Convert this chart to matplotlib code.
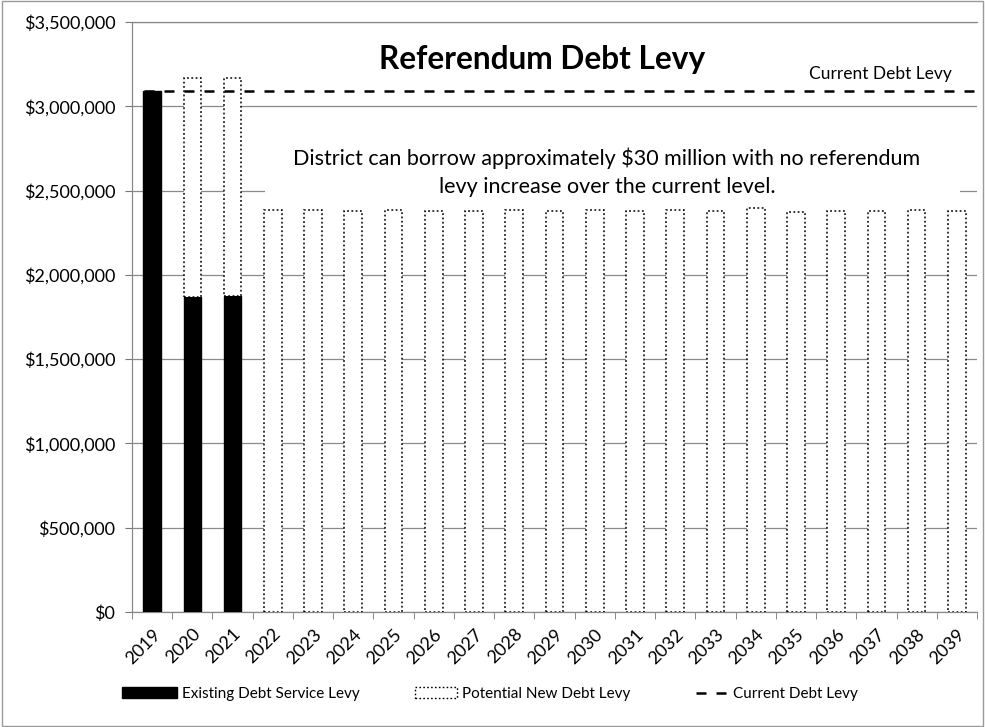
import matplotlib
matplotlib.use("Agg")
import matplotlib.pyplot as plt
from matplotlib.patches import Patch, Rectangle
from matplotlib.lines import Line2D
from matplotlib.ticker import FuncFormatter, MultipleLocator
import numpy as np

plt.rcParams['font.family'] = ['Lato', 'DejaVu Sans']

years = [str(y) for y in range(2019, 2040)]
existing_levy = [3090000, 1870000, 1875000] + [0] * 18
potential_levy = [0, 1297000, 1290000,
                  2383000, 2385000, 2380000, 2385000, 2380000, 2380000,
                  2385000, 2380000, 2385000, 2380000, 2385000, 2380000,
                  2395000, 2375000, 2380000, 2380000, 2385000, 2380000]
current_levy = 3090000

W, H = 985, 727
fig = plt.figure(figsize=(W / 100, H / 100), dpi=100)
ax = fig.add_axes([132 / W, 1 - 612 / H, (977 - 132) / W, (612 - 22) / H])

dotted = (0, (1.2, 1.6))
dashed = (0, (4, 4))

x = np.arange(len(years))
width = 0.44
ax.bar(x, existing_levy, width, color='black', edgecolor='black', zorder=3)
pot = np.array(potential_levy)
has_pot = pot > 0
ax.bar(x[has_pot], pot[has_pot], width, bottom=np.array(existing_levy)[has_pot],
       facecolor='white', edgecolor='black', linestyle=dotted,
       linewidth=1.1, zorder=3)

ax.hlines(current_levy, -0.2, 20.5, colors='black', linestyles=dashed,
          linewidth=1.8, zorder=4)

ax.set_xlim(-0.5, 20.5)
ax.set_ylim(0, 3500000)
ax.yaxis.set_major_locator(MultipleLocator(500000))
ax.yaxis.set_major_formatter(FuncFormatter(lambda v, p: f"${v:,.0f}"))
ax.grid(axis='y', color='#8a8a8a', linewidth=0.9, zorder=0)
ax.set_axisbelow(True)

ax.set_xticks(x)
ax.set_xticklabels(years, rotation=45, ha='right', rotation_mode='anchor',
                   fontsize=13)
ax.set_xticks(np.arange(-0.5, 21, 1), minor=True)
ax.tick_params(axis='x', which='major', length=0, pad=10)
ax.tick_params(axis='x', which='minor', length=5, color='#777777')
ax.tick_params(axis='y', length=5, color='#777777', labelsize=13, pad=7)

for s in ['left', 'bottom', 'top']:
    ax.spines[s].set_color('#888888')
    ax.spines[s].set_linewidth(0.9)
ax.spines['right'].set_visible(False)

ax.text(0.485, 0.937, 'Referendum Debt Levy', transform=ax.transAxes,
        ha='center', va='center', fontsize=22.8, fontweight='bold')
ax.text(0.886, 0.912, 'Current Debt Levy', transform=ax.transAxes,
        ha='center', va='center', fontsize=12.5)

# white panel behind the note, above the gridlines but under the bars
ax.add_patch(Rectangle((0.157, 0.702), 0.823, 0.106, transform=ax.transAxes,
                       facecolor='white', edgecolor='none', zorder=1.5))
ax.text(0.562, 0.746,
        'District can borrow approximately $30 million with no referendum\n'
        'levy increase over the current level.',
        transform=ax.transAxes, ha='center', va='center', fontsize=15.5,
        linespacing=1.5, zorder=5)

# legend entries placed individually along the bottom
legend_items = [
    (Patch(facecolor='black', edgecolor='black'), 'Existing Debt Service Levy', 122, 3.6),
    (Patch(facecolor='white', edgecolor='black', linestyle=dotted), 'Potential New Debt Levy', 415, 2.75),
    (Line2D([0], [0], color='black', linestyle=dashed, linewidth=1.8), 'Current Debt Levy', 696, 2.1),
]
for handle, label, left_px, hl in legend_items:
    fig.legend(handles=[handle], labels=[label], loc='center left',
               bbox_to_anchor=(left_px / W, 1 - 694 / H), frameon=False,
               fontsize=11, handlelength=hl, handleheight=0.75,
               handletextpad=0.35, borderpad=0, borderaxespad=0)

fig.patches.append(Rectangle((0.002, 0.002), 0.996, 0.996, transform=fig.transFigure,
                             fill=False, edgecolor='#999999', linewidth=1.0))

fig.savefig('out.png', dpi=100)
